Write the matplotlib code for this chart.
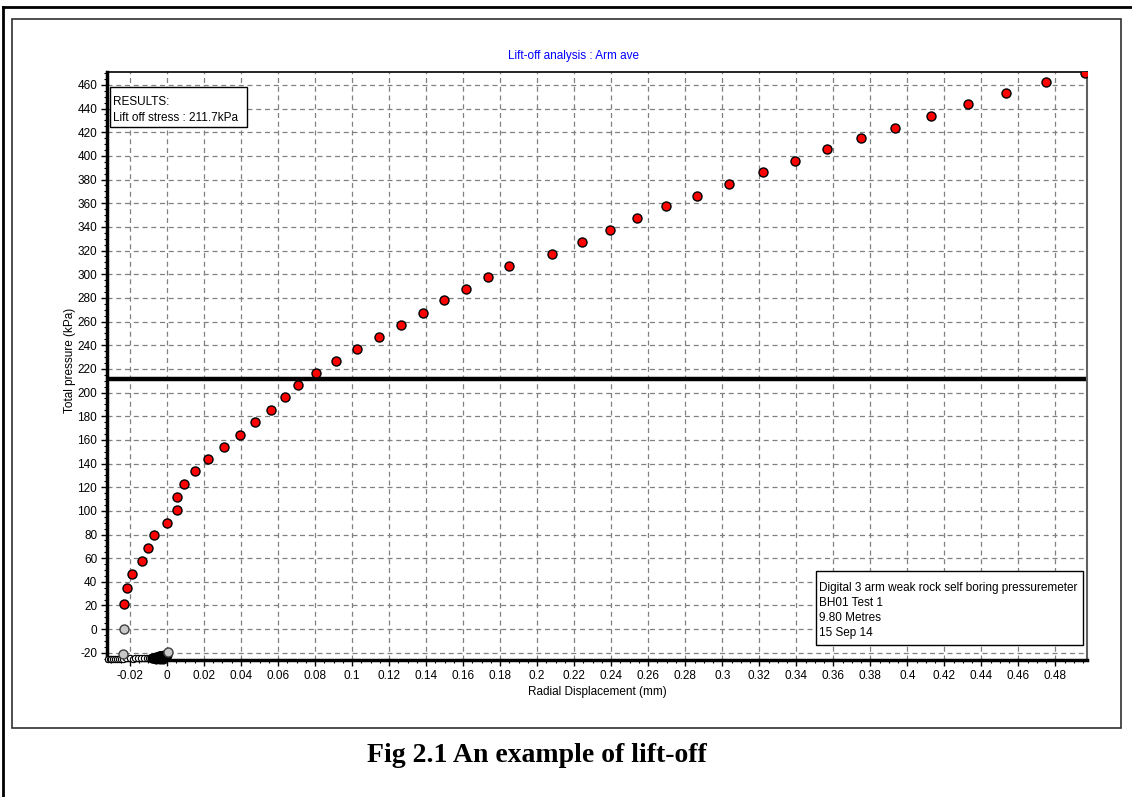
import matplotlib.pyplot as plt
import matplotlib.ticker as mticker
from matplotlib.lines import Line2D
from matplotlib.patches import Rectangle

plt.rcParams['font.family'] = ['Liberation Sans', 'DejaVu Sans']
plt.rcParams['axes.unicode_minus'] = False

# loading curve (arm average)
disp = [-0.0232, -0.0216, -0.0189, -0.0135, -0.0103, -0.0071, -0.0002, 0.0052,
        0.0056, 0.0092, 0.0151, 0.0223, 0.0306, 0.0394, 0.0475, 0.0562, 0.0639,
        0.0709, 0.0803, 0.0913, 0.1024, 0.1145, 0.1267, 0.1384, 0.1497, 0.1613,
        0.1732, 0.1847, 0.2080, 0.2242, 0.2394, 0.2540, 0.2696, 0.2863, 0.3035,
        0.3218, 0.3395, 0.3567, 0.3749, 0.3935, 0.4127, 0.4329, 0.4534, 0.4750,
        0.4957]
pressure = [21.1, 34.9, 46.8, 57.8, 68.5, 79.7, 90.0, 100.6, 111.6, 122.4,
            133.6, 143.8, 153.9, 164.3, 175.0, 185.2, 196.2, 206.1, 216.2, 226.4,
            237.0, 247.2, 257.3, 267.4, 278.2, 287.3, 297.4, 307.3, 317.4, 327.3,
            337.4, 347.5, 357.4, 366.4, 376.6, 386.7, 395.7, 405.9, 414.9, 423.9,
            434.0, 443.9, 453.0, 462.3, 469.9]

# points excluded from the analysis
excl_disp = [-0.0232, -0.0237, 0.0007]
excl_pressure = [0.0, -21.4, -19.2]

# seating readings before the membrane moves
seat_disp = [-0.032, -0.031, -0.030, -0.029, -0.028, -0.027, -0.026, -0.025,
             -0.024, -0.022, -0.020, -0.0185, -0.017, -0.0155, -0.014, -0.0125,
             -0.011, -0.0095]
seat_pressure = [-25.5, -25.5, -25.5, -25.4, -25.4, -25.3, -25.3, -25.2,
                 -25.0, -24.8, -24.8, -24.9, -24.8, -24.8, -24.7, -24.6,
                 -24.5, -24.5]
settle_disp = [-0.008, -0.0075, -0.007, -0.0065, -0.006, -0.0055, -0.005,
               -0.0045, -0.004, -0.0035, -0.003, -0.0025, -0.002, -0.0015,
               -0.001, -0.0005, 0.0, -0.006, -0.004, -0.002]
settle_pressure = [-24.6, -24.4, -24.3, -24.0, -23.6, -23.4, -23.2, -23.0,
                   -22.8, -22.6, -22.5, -22.4, -22.3, -22.2, -22.0, -21.9, -21.8,
                   -25.0, -25.0, -25.0]

lift_off = 211.7

info_lines = ['Digital 3 arm weak rock self boring pressuremeter', 'BH01 Test 1',
              '9.80 Metres', '15 Sep 14']
result_lines = ['RESULTS:', 'Lift off stress : %.1fkPa' % lift_off]

x_ticks = [-0.02, 0, 0.02, 0.04, 0.06, 0.08, 0.1, 0.12, 0.14, 0.16, 0.18, 0.2,
           0.22, 0.24, 0.26, 0.28, 0.3, 0.32, 0.34, 0.36, 0.38, 0.4, 0.42, 0.44,
           0.46, 0.48]
y_ticks = list(range(-20, 461, 20))

fig = plt.figure(figsize=(11.32, 7.97), dpi=100)
ax = fig.add_axes([0.0945, 0.172, 0.8657, 0.7378])

ax.set_xlim(-0.0324, 0.497)
ax.set_ylim(-26, 471)

ax.grid(True, color='#808080', linestyle=(0, (4, 3)), linewidth=0.9)
ax.set_axisbelow(True)

ax.axhline(lift_off, color='black', linewidth=3.2, zorder=2)

ax.plot(seat_disp, seat_pressure, 'o', ms=4.5, mfc='white', mec='black',
        mew=0.8, zorder=3, clip_on=False)
ax.plot(settle_disp, settle_pressure, 'o', ms=6.5, mfc='black', mec='black',
        mew=0.8, zorder=3, clip_on=False)
ax.plot(excl_disp, excl_pressure, 'o', ms=6.5, mfc='#c8c8c8', mec='#404040',
        mew=1.0, zorder=4)
ax.plot(disp, pressure, 'o', ms=6.5, mfc='red', mec='black', mew=1.0, zorder=4)


def fmt_tick(v, pos):
    v = round(v, 2)
    return '0' if v == 0 else f"{v:g}"


ax.xaxis.set_major_locator(mticker.FixedLocator(x_ticks))
ax.xaxis.set_minor_locator(mticker.MultipleLocator(0.005))
ax.yaxis.set_major_locator(mticker.FixedLocator(y_ticks))
ax.yaxis.set_minor_locator(mticker.MultipleLocator(5))
ax.xaxis.set_major_formatter(mticker.FuncFormatter(fmt_tick))
ax.tick_params(which='major', direction='out', length=4, width=1, labelsize=8.5, pad=3)
ax.tick_params(which='minor', direction='out', length=2.5, width=0.8)

for side in ['left', 'bottom']:
    ax.spines[side].set_linewidth(2.5)
ax.spines['top'].set_linewidth(1.2)
ax.spines['right'].set_linewidth(1.5)
ax.spines['right'].set_color('#606060')

ax.set_xlabel('Radial Displacement (mm)', fontsize=8.5, labelpad=3)
ax.set_ylabel('Total pressure (kPa)', fontsize=8.5)
ax.yaxis.set_label_coords(-0.0316, 0.51)
ax.set_title('Lift-off analysis : Arm ave', fontsize=8.5, color='#0000ff',
             x=0.4765, pad=9)

# results box, top left
ax.add_patch(Rectangle((0.0031, 0.9065), 0.1398, 0.068, transform=ax.transAxes,
                       fc='white', ec='black', lw=1.0, zorder=5))
for i, line in enumerate(result_lines):
    ax.text(0.0061, 0.949 - i * 0.0272, line, transform=ax.transAxes,
            fontsize=8.5, va='center', ha='left', zorder=6)

# test info box, bottom right
ax.add_patch(Rectangle((0.7235, 0.0255), 0.2724, 0.1259, transform=ax.transAxes,
                       fc='white', ec='black', lw=1.0, zorder=5))
for i, line in enumerate(info_lines):
    ax.text(0.7265, 0.1225 - i * 0.0255, line, transform=ax.transAxes,
            fontsize=8.5, va='center', ha='left', zorder=6)

# page borders around the chart
fig.add_artist(Line2D([3 / 1132, 1.0], [1 - 7 / 797, 1 - 7 / 797], color='black', lw=2))
fig.add_artist(Line2D([3 / 1132, 3 / 1132], [0, 1 - 7 / 797], color='black', lw=2))
fig.add_artist(Rectangle((12 / 1132, 1 - 728 / 797), 1109 / 1132, 709 / 797,
                         fill=False, ec='#303030', lw=1.2))

fig.text(537 / 1132, 1 - 762 / 797, 'Fig 2.1 An example of lift-off',
         family='Liberation Serif', weight='bold', fontsize=20,
         ha='center', va='baseline')

fig.savefig('out.png', dpi=100)
